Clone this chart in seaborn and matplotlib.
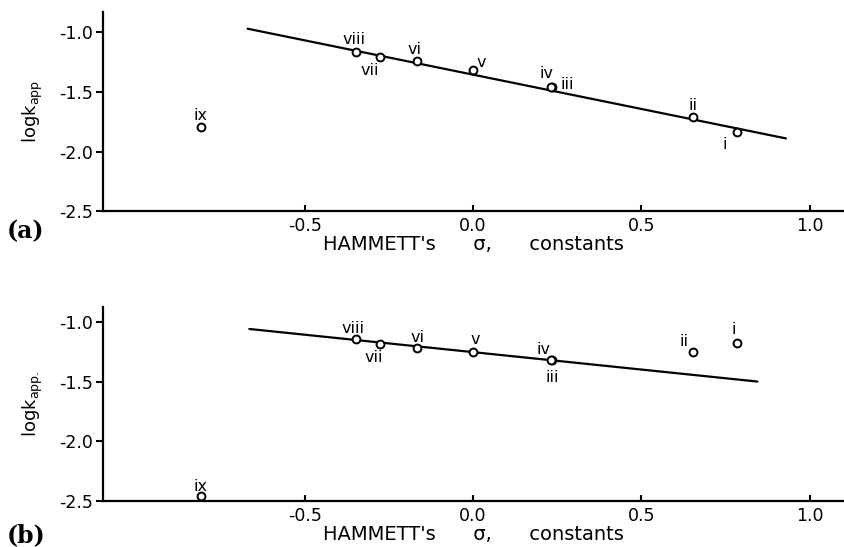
import matplotlib
matplotlib.use('Agg')
import matplotlib.pyplot as plt
import pandas as pd
import seaborn as sns

# substituent labels and HAMMETT sigma values
labels = ['i', 'ii', 'iii', 'iv', 'v', 'vi', 'vii', 'viii', 'ix']
sigma = [0.785, 0.655, 0.235, 0.232, 0.0, -0.168, -0.278, -0.348, -0.81]

# log k_app for panel (a) and panel (b)
logk_a = [-1.836, -1.711, -1.456, -1.456, -1.317, -1.239, -1.211, -1.164, -1.797]
logk_b = [-1.178, -1.256, -1.322, -1.322, -1.256, -1.219, -1.183, -1.144, -2.46]

# fitted lines (end points)
line_a_x = [-0.67, 0.93]
line_a_y = [-0.97, -1.89]
line_b_x = [-0.665, 0.845]
line_b_y = [-1.06, -1.50]

# label offsets in pixels (dx, dy) for each point, per panel
offsets_a = {'i': (-12, -13), 'ii': (0, 12), 'iii': (15, 2), 'iv': (-5, 13),
             'v': (8, 8), 'vi': (-2, 11), 'vii': (-10, -13), 'viii': (-2, 12),
             'ix': (0, 12)}
offsets_b = {'i': (-3, 14), 'ii': (-9, 11), 'iii': (0, -17), 'iv': (-8, 11),
             'v': (2, 13), 'vi': (1, 10), 'vii': (-6, -14), 'viii': (-3, 11),
             'ix': (0, 10)}

sns.set_style('ticks', {'axes.edgecolor': 'black', 'text.color': 'black',
                        'axes.labelcolor': 'black', 'xtick.color': 'black',
                        'ytick.color': 'black'})
plt.rcParams['font.family'] = ['DejaVu Sans']

df_a = pd.DataFrame({'sigma': sigma, 'logk': logk_a, 'label': labels})
df_b = pd.DataFrame({'sigma': sigma, 'logk': logk_b, 'label': labels})

fig = plt.figure(figsize=(8.44, 5.47), dpi=100)
ax_a = fig.add_axes([0.122, 0.614, 0.877, 0.364])
ax_b = fig.add_axes([0.122, 0.084, 0.877, 0.355])

xlabel = "HAMMETT's      \u03c3,      constants"


def draw_panel(ax, df, lx, ly, offsets, ylabel, ytop):
    sns.lineplot(x=lx, y=ly, ax=ax, color='black', linewidth=1.6)
    sns.scatterplot(data=df, x='sigma', y='logk', ax=ax, s=32,
                    facecolor='white', edgecolor='black', linewidth=1.4,
                    zorder=3, clip_on=False)
    for _, row in df.iterrows():
        dx, dy = offsets[row['label']]
        ax.annotate(row['label'], (row['sigma'], row['logk']),
                    xytext=(dx, dy), textcoords='offset pixels',
                    ha='center', va='center', fontsize=11.5)
    ax.set_xlim(-1.1, 1.1)
    ax.set_ylim(-2.5, ytop)
    ax.set_xticks([-0.5, 0.0, 0.5, 1.0])
    ax.set_xticklabels(['-0.5', '0.0', '0.5', '1.0'])
    ax.set_yticks([-2.5, -2.0, -1.5, -1.0])
    ax.set_yticklabels(['-2.5', '-2.0', '-1.5', '-1.0'])
    ax.tick_params(axis='x', direction='in', length=4, width=1.5, pad=4,
                   labelsize=12.5)
    ax.tick_params(axis='y', direction='out', length=5, width=1.5, pad=2,
                   labelsize=12.5)
    for side in ['top', 'right']:
        ax.spines[side].set_visible(False)
    for side in ['left', 'bottom']:
        ax.spines[side].set_linewidth(1.6)
    ax.set_xlabel(xlabel, fontsize=14, labelpad=0)
    ax.set_ylabel(ylabel, fontsize=13, labelpad=10)


draw_panel(ax_a, df_a, line_a_x, line_a_y, offsets_a,
           r'logk$_\mathregular{app}$', -0.83)
draw_panel(ax_b, df_b, line_b_x, line_b_y, offsets_b,
           r'logk$_\mathregular{app.}$', -0.875)

fig.text(0.008, 1 - 231 / 547, '(a)', fontfamily='DejaVu Serif',
         fontweight='bold', fontsize=17, va='center')
fig.text(0.008, 1 - 535 / 547, '(b)', fontfamily='DejaVu Serif',
         fontweight='bold', fontsize=17, va='center')

fig.savefig('out.png', dpi=100)
